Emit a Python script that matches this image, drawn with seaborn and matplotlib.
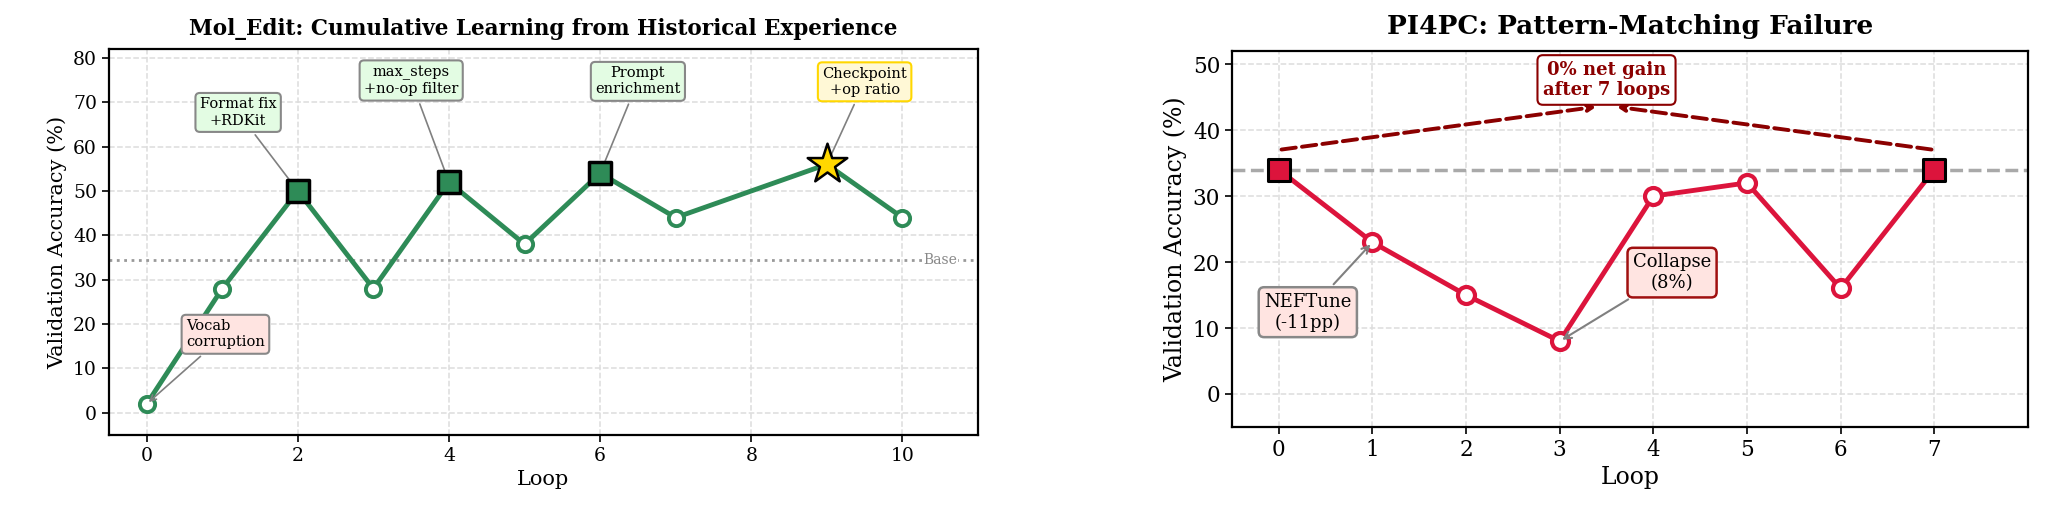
import numpy as np
import pandas as pd
import seaborn as sns
import matplotlib.pyplot as plt

sns.set_style("ticks")
plt.rcParams['font.family'] = ['DejaVu Serif']
plt.rcParams['text.color'] = 'black'
plt.rcParams['axes.labelcolor'] = 'black'
plt.rcParams['xtick.color'] = 'black'
plt.rcParams['ytick.color'] = 'black'

# ---- Mol_Edit data
mol_loops = [0, 1, 2, 3, 4, 5, 6, 7, 9, 10]
mol_acc = [2, 28, 50, 28, 52, 38, 54, 44, 56, 44]
mol_fix_loops = [2, 4, 6]
mol_fix_acc = [50, 52, 54]
mol_best_loop = [9]
mol_best_acc = [56]
mol_base = 34.5

# ---- PI4PC data
pi_loops = [0, 1, 2, 3, 4, 5, 6, 7]
pi_acc = [34, 23, 15, 8, 30, 32, 16, 34]
pi_end_loops = [0, 7]
pi_end_acc = [34, 34]
pi_base = 34

GREEN = '#2E8B57'
RED = '#DC143C'
DARKRED = '#8B0000'

fig = plt.figure(figsize=(20.55, 5.05), dpi=100)
ax1 = fig.add_axes([0.0530, 0.1386, 0.4229, 0.7644])
ax2 = fig.add_axes([0.5995, 0.1545, 0.3873, 0.7446])


def style_ax(ax, fs):
    ax.grid(True, ls='--', color='#DDDDDD', lw=1.1)
    ax.set_axisbelow(True)
    for s in ax.spines.values():
        s.set_linewidth(1.6)
        s.set_color('black')
    ax.tick_params(labelsize=fs, length=5, width=1.2, colors='black')


#==================== left panel
mol_df = pd.DataFrame({'loop': mol_loops, 'acc': mol_acc})
open_df = mol_df[~mol_df['loop'].isin(mol_fix_loops + mol_best_loop)]

ax1.axhline(mol_base, color='#999999', ls=':', lw=2, zorder=2)
sns.lineplot(data=mol_df, x='loop', y='acc', ax=ax1, color=GREEN, lw=3.5, zorder=3)
sns.scatterplot(data=open_df, x='loop', y='acc', ax=ax1, marker='o', s=120,
                facecolor='white', edgecolor=GREEN, linewidth=2.8, zorder=5)
sns.scatterplot(x=mol_fix_loops, y=mol_fix_acc, ax=ax1, marker='s', s=230,
                color=GREEN, edgecolor='black', linewidth=2.5, zorder=5)
sns.scatterplot(x=mol_best_loop, y=mol_best_acc, ax=ax1, marker='*', s=900,
                color='#FFD700', edgecolor='black', linewidth=1.8, zorder=5)

ax1.text(10.5, mol_base, 'Base', color='#888888', fontsize=10, ha='center', va='center',
         bbox=dict(facecolor='white', edgecolor='none', pad=0.5), zorder=4)

green_box = dict(boxstyle='round,pad=0.3', facecolor='#E3FCE3', edgecolor='#888888', lw=1.5)
ax1.annotate('Vocab\ncorruption', xy=(0, 2), xytext=(0.52, 17.7), fontsize=10.5,
             ha='left', va='center',
             bbox=dict(boxstyle='round,pad=0.3', facecolor='#FFE4E1', edgecolor='#888888', lw=1.5),
             arrowprops=dict(arrowstyle='->', color='#808080', lw=1.2), zorder=6)
ax1.annotate('Format fix\n+RDKit', xy=(2, 50), xytext=(1.21, 67.7), fontsize=10.5,
             ha='center', va='center', bbox=green_box,
             arrowprops=dict(arrowstyle='-', color='#808080', lw=1.2), zorder=4)
ax1.annotate('max_steps\n+no-op filter', xy=(4, 52), xytext=(3.5, 74.8), fontsize=10.5,
             ha='center', va='center', bbox=green_box,
             arrowprops=dict(arrowstyle='-', color='#808080', lw=1.2), zorder=4)
ax1.annotate('Prompt\nenrichment', xy=(6, 54), xytext=(6.5, 74.7), fontsize=10.5,
             ha='center', va='center', bbox=green_box,
             arrowprops=dict(arrowstyle='-', color='#808080', lw=1.2), zorder=4)
ax1.annotate('Checkpoint\n+op ratio', xy=(9, 56), xytext=(9.5, 74.6), fontsize=10.5,
             ha='center', va='center',
             bbox=dict(boxstyle='round,pad=0.3', facecolor='#FFF8D6', edgecolor='#FFD700', lw=1.5),
             arrowprops=dict(arrowstyle='-', color='#808080', lw=1.2), zorder=4)

ax1.set_xlim(-0.5, 11)
ax1.set_ylim(-5, 82)
ax1.set_xticks([0, 2, 4, 6, 8, 10])
ax1.set_yticks(range(0, 81, 10))
ax1.set_xlabel('Loop', fontsize=15)
ax1.set_ylabel('Validation Accuracy (%)', fontsize=15)
ax1.set_title('Mol_Edit: Cumulative Learning from Historical Experience',
              fontsize=15.5, fontweight='bold', pad=10, color='black')
style_ax(ax1, 13.5)

#==================== right panel
pi_df = pd.DataFrame({'loop': pi_loops, 'acc': pi_acc})
pi_open = pi_df[~pi_df['loop'].isin(pi_end_loops)]

ax2.axhline(pi_base, color='#A9A9A9', ls='--', lw=2.5, zorder=2)
sns.lineplot(data=pi_df, x='loop', y='acc', ax=ax2, color=RED, lw=3.5, zorder=3)
sns.scatterplot(data=pi_open, x='loop', y='acc', ax=ax2, marker='o', s=150,
                facecolor='white', edgecolor=RED, linewidth=3, zorder=5)
sns.scatterplot(x=pi_end_loops, y=pi_end_acc, ax=ax2, marker='s', s=260,
                color=RED, edgecolor='black', linewidth=2.2, zorder=5)

ax2.annotate('', xy=(3.42, 43.6), xytext=(0, 37),
             arrowprops=dict(arrowstyle='->', color=DARKRED, lw=2.8, ls='--'))
ax2.annotate('', xy=(3.58, 43.6), xytext=(7, 37),
             arrowprops=dict(arrowstyle='->', color=DARKRED, lw=2.8, ls='--'))
ax2.text(3.5, 47.6, '0% net gain\nafter 7 loops', fontsize=13, fontweight='bold',
         color=DARKRED, ha='center', va='center',
         bbox=dict(boxstyle='round,pad=0.3', facecolor='white', edgecolor=DARKRED, lw=1.5), zorder=6)

ax2.annotate('NEFTune\n(-11pp)', xy=(1, 23), xytext=(0.31, 12.4), fontsize=13,
             ha='center', va='center',
             bbox=dict(boxstyle='round,pad=0.3', facecolor='#FFE4E1', edgecolor='#888888', lw=1.8),
             arrowprops=dict(arrowstyle='->', color='#808080', lw=1.5), zorder=6)
ax2.annotate('Collapse\n(8%)', xy=(3, 8), xytext=(4.2, 18.4), fontsize=13,
             ha='center', va='center',
             bbox=dict(boxstyle='round,pad=0.3', facecolor='#FFE4E1', edgecolor='#A01010', lw=1.8),
             arrowprops=dict(arrowstyle='->', color='#808080', lw=1.5), zorder=6)

ax2.set_xlim(-0.5, 8)
ax2.set_ylim(-5, 52)
ax2.set_xticks(pi_loops)
ax2.set_yticks(range(0, 51, 10))
ax2.set_xlabel('Loop', fontsize=17)
ax2.set_ylabel('Validation Accuracy (%)', fontsize=17)
ax2.set_title('PI4PC: Pattern-Matching Failure', fontsize=19, fontweight='bold', pad=12, color='black')
style_ax(ax2, 15.5)

fig.savefig('out.png', dpi=100)
